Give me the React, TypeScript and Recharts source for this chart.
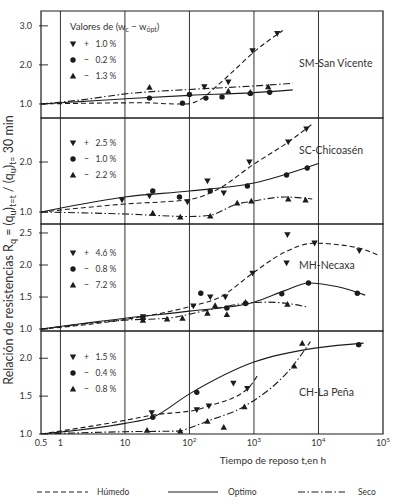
import { ComposedChart, Line, Scatter, XAxis, YAxis, ReferenceLine, ReferenceArea } from "recharts";

// [t (h), Rq] pairs read per soil: curves (wet / optimum / dry) and measured points
const smWet = [[0.5, 1.0], [3, 1.02], [20, 1.03], [60, 1.0], [90, 1.0], [150, 1.12], [250, 1.42], [450, 1.8], [1000, 2.33], [2800, 2.88]];
const smOpt = [[0.5, 1.0], [2, 1.06], [12, 1.14], [100, 1.22], [1000, 1.29], [4000, 1.36]];
const smDry = [[0.5, 1.0], [2, 1.1], [12, 1.27], [100, 1.37], [1000, 1.46], [4000, 1.53]];
const smWetPts = [[170, 1.44], [400, 1.56], [950, 2.36], [2300, 2.8]];
const smOptPts = [[24, 1.15], [78, 1.02], [100, 1.24], [180, 1.15], [320, 1.18], [880, 1.27], [1750, 1.3]];
const smDryPts = [[24, 1.43], [400, 1.33], [880, 1.3], [1660, 1.44]];

const scWet = [[0.5, 1.0], [10, 1.16], [100, 1.25], [280, 1.46], [950, 1.94], [3400, 2.4], [8400, 2.78]];
const scOpt = [[0.5, 1.0], [2, 1.15], [10, 1.3], [100, 1.42], [1000, 1.58], [10000, 1.97]];
const scDry = [[0.5, 1.0], [10, 0.96], [100, 0.91], [200, 0.93], [550, 1.16], [1000, 1.22], [3000, 1.3], [8000, 1.26]];
const scWetPts = [[9, 1.24], [24, 1.32], [93, 1.2], [190, 1.62], [340, 1.38], [850, 2.0], [3400, 2.4], [6500, 2.66]];
const scOptPts = [[27, 1.42], [70, 1.3], [210, 1.42], [790, 1.52], [3200, 1.74], [6700, 1.88]];
const scDryPts = [[27, 0.98], [72, 0.9], [210, 0.92], [550, 1.18], [910, 1.22], [3400, 1.26], [6300, 1.24]];

const mhWet = [[0.5, 1.0], [10, 1.15], [100, 1.35], [300, 1.5], [950, 1.87], [3000, 2.2], [8400, 2.34], [40000, 2.27], [90000, 2.14]];
const mhOpt = [[0.5, 1.0], [10, 1.17], [100, 1.28], [1000, 1.42], [3000, 1.6], [7000, 1.72], [20000, 1.66], [53000, 1.53]];
const mhDry = [[0.5, 1.0], [10, 1.14], [45, 1.17], [200, 1.3], [700, 1.4], [1600, 1.42], [3300, 1.4], [7000, 1.34]];
const mhWetPts = [[19, 1.19], [115, 1.36], [210, 1.5], [360, 1.5], [950, 1.87], [3200, 2.03], [3300, 2.47], [8700, 2.34], [43000, 2.22]];
const mhOptPts = [[19, 1.17], [150, 1.56], [380, 1.33], [740, 1.4], [2700, 1.55], [7000, 1.72], [40000, 1.56]];
const mhDryPts = [[19, 1.14], [45, 1.16], [78, 1.17], [190, 1.25], [250, 1.37], [380, 1.23], [740, 1.42], [3300, 1.39]];

const chWet = [[0.5, 1.0], [10, 1.18], [27, 1.25], [130, 1.32], [200, 1.37], [800, 1.6], [1150, 1.78]];
const chOpt = [[0.5, 1.0], [10, 1.14], [27, 1.22], [100, 1.53], [1000, 1.95], [10000, 2.14], [50000, 2.2]];
const chDry = [[0.5, 1.0], [10, 1.03], [72, 1.04], [100, 1.08], [190, 1.17], [690, 1.36], [4000, 1.9], [7500, 2.22]];
const chWetPts = [[26, 1.28], [130, 1.32], [200, 1.37], [480, 1.67], [790, 1.6]];
const chOptPts = [[27, 1.22], [130, 1.55], [42000, 2.18]];
const chDryPts = [[22, 1.05], [72, 1.04], [190, 1.17], [340, 1.09], [710, 1.36], [4200, 1.9], [5600, 2.2]];

const panelNames = ["SM-San Vicente", "SC-Chicoasén", "MH-Necaxa", "CH-La Peña"];
const wetLabels = ["+   1.0 %", "+   2.5 %", "+   4.6 %", "+   1.5 %"];
const optLabels = ["−   0.2 %", "−   1.0 %", "−   0.8 %", "−   0.4 %"];
const dryLabels = ["−   1.3 %", "−   2.2 %", "−   7.2 %", "−   0.8 %"];
const yTicks = [[1, 2, 3], [1, 2], [1, 1.5, 2, 2.5], [1, 1.5, 2]];
const yDomains = [[0.64, 3.38], [0.76, 2.88], [0.97, 2.64], [1.0, 2.36]];

const xTicks = [0.5, 1, 10, 100, 1000, 10000, 100000];
const xTickBase = ["0.5", "1", "10", "10", "10", "10", "10"];
const xTickExp = ["", "", "", "2", "3", "4", "5"];
const gridTimes = [1, 10, 100, 1000, 10000];

// layout
const W = 394;
const PLOT_LEFT = 41;
const PLOT_RIGHT = 383;
const PAD = 6;
const AXIS_H = 40;
const panelTops = [11, 118, 224, 331];
const panelBottoms = [118, 224, 331, 434];
const legendTop = [33, 25, 29, 26];
const nameTop = [52, 32, 41, 61];

const INK = "#1c1c1c";
const FONT = "Lato, 'Open Sans', sans-serif";
const DASH = "5 3";
const DASHDOT = "7 2.5 1.5 2.5";

const toPts = (pairs: number[][]) => pairs.map(([t, v]) => ({ t, v }));

const series = [
  [smWet, smOpt, smDry, smWetPts, smOptPts, smDryPts],
  [scWet, scOpt, scDry, scWetPts, scOptPts, scDryPts],
  [mhWet, mhOpt, mhDry, mhWetPts, mhOptPts, mhDryPts],
  [chWet, chOpt, chDry, chWetPts, chOptPts, chDryPts],
];

const TriDown = ({ cx, cy }: any) => (
  <polygon points={`${cx - 3.2},${cy - 2.6} ${cx + 3.2},${cy - 2.6} ${cx},${cy + 3.2}`} fill={INK} />
);
const TriUp = ({ cx, cy }: any) => (
  <polygon points={`${cx - 3.2},${cy + 2.6} ${cx + 3.2},${cy + 2.6} ${cx},${cy - 3.2}`} fill={INK} />
);
const Dot = ({ cx, cy }: any) => <circle cx={cx} cy={cy} r={2.7} fill={INK} />;

const YTick = ({ y, payload }: any) => (
  <g>
    <text x={PLOT_LEFT - 9} y={y} dy={3.2} textAnchor="end" fontSize={9} fill="#333" fontFamily={FONT}>
      {Number(payload.value).toFixed(1)}
    </text>
    <line x1={PLOT_LEFT - 2} x2={PLOT_LEFT + 7} y1={y} y2={y} stroke={INK} strokeWidth={0.9} />
  </g>
);

const XTick = ({ x, y, payload }: any) => {
  const i = xTicks.indexOf(payload.value);
  return (
    <text x={x} y={y + 12} textAnchor="middle" fontSize={9} fill="#333" fontFamily={FONT}>
      {xTickBase[i]}
      {xTickExp[i] && (
        <tspan dy={-4} fontSize={6.5}>
          {xTickExp[i]}
        </tspan>
      )}
    </text>
  );
};

function PanelNotes({ viewBox, idx }: any) {
  const { x, y, width } = viewBox;
  const lx = x + 32;
  const ty = y + legendTop[idx];
  const nx = x + width - 84;
  const ny = y + nameTop[idx];
  const rows = [
    [TriDown, wetLabels[idx]],
    [Dot, optLabels[idx]],
    [TriUp, dryLabels[idx]],
  ] as const;
  return (
    <g fontFamily={FONT} fill="#333">
      {idx === 0 && (
        <text x={lx - 3} y={y + 19} fontSize={9.5}>
          Valores de (w
          <tspan dy={2} fontSize={7}>c</tspan>
          <tspan dy={-2}> − w</tspan>
          <tspan dy={2} fontSize={7}>ópt</tspan>
          <tspan dy={-2}>)</tspan>
        </text>
      )}
      {rows.map(([Mark, label], k) => (
        <g key={k}>
          <Mark cx={lx} cy={ty + k * 16} />
          <text x={lx + 11} y={ty + k * 16 + 3} fontSize={8.5} style={{ whiteSpace: "pre" }}>
            {label}
          </text>
        </g>
      ))}
      <rect x={nx - 2} y={ny - 7} width={80} height={14} fill="#fff" />
      <text x={nx} y={ny + 3.5} fontSize={10.5}>
        {panelNames[idx]}
      </text>
    </g>
  );
}

function Panel({ idx }: { idx: number }) {
  const bottomPanel = idx === 3;
  const h = panelBottoms[idx] - panelTops[idx];
  const [wet, opt, dry, wetPts, optPts, dryPts] = series[idx];
  const [y0, y1] = yDomains[idx];
  return (
    <div style={{ position: "absolute", left: 0, top: panelTops[idx] - PAD }}>
      <ComposedChart
        width={W}
        height={h + 2 * PAD + (bottomPanel ? AXIS_H : 0)}
        margin={{ top: PAD, right: W - PLOT_RIGHT, bottom: PAD, left: 0 }}
      >
        <XAxis
          dataKey="t"
          type="number"
          scale="log"
          domain={[0.5, 100000]}
          allowDataOverflow
          ticks={xTicks}
          interval={0}
          hide={!bottomPanel}
          height={AXIS_H}
          axisLine={false}
          tickLine={false}
          tickSize={0}
          tickMargin={0}
          tick={<XTick />}
          label={(p: any) => (
            <text
              x={p.viewBox.x + p.viewBox.width * 0.678}
              y={p.viewBox.y + 30}
              textAnchor="middle"
              fontSize={10}
              fill="#333"
              fontFamily={FONT}
            >
              Tiempo de reposo t,en h
            </text>
          )}
        />
        <YAxis
          type="number"
          domain={[y0, y1]}
          allowDataOverflow
          ticks={yTicks[idx]}
          interval={0}
          width={PLOT_LEFT}
          axisLine={false}
          tickLine={false}
          tick={<YTick />}
        />
        {gridTimes.map((t) => (
          <ReferenceLine key={t} x={t} stroke={INK} strokeWidth={0.9} />
        ))}
        <ReferenceArea
          x1={0.5}
          x2={100000}
          y1={y0}
          y2={y1}
          fill="none"
          fillOpacity={0}
          stroke={INK}
          strokeWidth={1.2}
          label={(p: any) => <PanelNotes viewBox={p.viewBox} idx={idx} />}
        />
        <Line data={toPts(wet)} dataKey="v" type="monotone" stroke={INK} strokeWidth={1.1} strokeDasharray={DASH} dot={false} isAnimationActive={false} />
        <Line data={toPts(opt)} dataKey="v" type="monotone" stroke={INK} strokeWidth={1.1} dot={false} isAnimationActive={false} />
        <Line data={toPts(dry)} dataKey="v" type="monotone" stroke={INK} strokeWidth={1.1} strokeDasharray={DASHDOT} dot={false} isAnimationActive={false} />
        <Scatter data={toPts(wetPts)} dataKey="v" shape={TriDown} isAnimationActive={false} />
        <Scatter data={toPts(optPts)} dataKey="v" shape={Dot} isAnimationActive={false} />
        <Scatter data={toPts(dryPts)} dataKey="v" shape={TriUp} isAnimationActive={false} />
      </ComposedChart>
    </div>
  );
}

export default function App() {
  return (
    <div style={{ position: "absolute", left: 0, top: 0, width: W, height: 504, background: "#fff", fontFamily: FONT }}>
      {[0, 1, 2, 3].map((i) => (
        <Panel key={i} idx={i} />
      ))}
      <svg width={30} height={504} style={{ position: "absolute", left: 0, top: 0 }}>
        <text transform="translate(13,250) rotate(-90)" textAnchor="middle" fontSize={12.5} fill="#333" fontFamily={FONT}>
          Relación de resistencias R<tspan dy={2.5} fontSize={9}>q</tspan>
          <tspan dy={-2.5}> = (q</tspan>
          <tspan dy={2.5} fontSize={9}>u</tspan>
          <tspan dy={-2.5}>)</tspan>
          <tspan dy={2.5} fontSize={9}>t=t</tspan>
          <tspan dy={-2.5}> / (q</tspan>
          <tspan dy={2.5} fontSize={9}>u</tspan>
          <tspan dy={-2.5}>)</tspan>
          <tspan dy={2.5} fontSize={9}>t=</tspan>
          <tspan dy={-2.5}> 30 min</tspan>
        </text>
      </svg>
      <svg width={W} height={20} style={{ position: "absolute", left: 0, top: 482 }}>
        <g stroke={INK} strokeWidth={1}>
          <line x1={37} x2={88} y1={10} y2={10} strokeDasharray={DASH} />
          <line x1={168} x2={218} y1={10} y2={10} />
          <line x1={298} x2={345} y1={10} y2={10} strokeDasharray={DASHDOT} />
        </g>
        <g fontSize={8.5} fill="#333" fontFamily={FONT}>
          <text x={97} y={13}>Húmedo</text>
          <text x={228} y={13}>Optimo</text>
          <text x={358} y={13}>Seco</text>
        </g>
      </svg>
    </div>
  );
}
